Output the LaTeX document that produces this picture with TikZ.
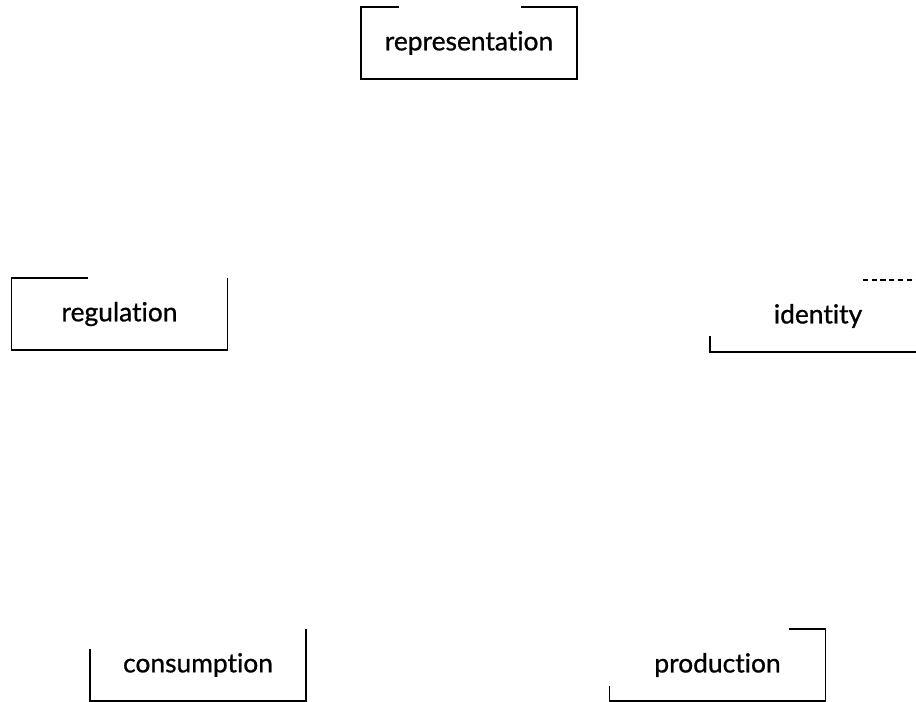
\documentclass[tikz,border=0pt]{standalone}
\usepackage{fontspec}
\setmainfont{Lato}[Ligatures=NoCommon, FakeBold=0.8]
\usetikzlibrary{calc}

\begin{document}
\begin{tikzpicture}[
    x=0.02cm, y=-0.02cm,
    box/.style={rectangle, minimum width=4.3cm, minimum height=1.42cm, inner sep=0pt, font=\fontsize{15}{18}\selectfont},
    edge/.style={line width=0.8pt, black},
]
    \useasboundingbox (0,0) rectangle (916,702);

    \node[box] (rep) at (469,43) {representation};
    \node[box] (reg) at (119.5,314) {regulation};
    \node[box] (ident) at (818,316) {identity};
    \node[box] (cons) at (198,665) {consumption};
    \node[box] (prod) at (717.5,665) {production};

    % only parts of the frames are left in the scan
    \draw[edge] ($(rep.north east)+(-56,0)$) -- (rep.north east) -- (rep.south east) -- (rep.south west) -- (rep.north west) -- ++(38,0);
    \draw[edge] ($(reg.north west)+(76,0)$) -- (reg.north west) -- (reg.south west) -- (reg.south east) -- (reg.north east);
    \draw[edge, densely dashed] ($(ident.north east)+(-63,0)$) -- (ident.north east);
    \draw[edge] (ident.south east) -- (ident.south west) -- ++(0,-16);
    \draw[edge] ($(cons.south west)+(0,-52)$) -- (cons.south west) -- (cons.south east) -- (cons.north east);
    \draw[edge] ($(prod.north east)+(-36,0)$) -- (prod.north east) -- (prod.south east) -- (prod.south west) -- ++(0,-15);
\end{tikzpicture}
\end{document}
